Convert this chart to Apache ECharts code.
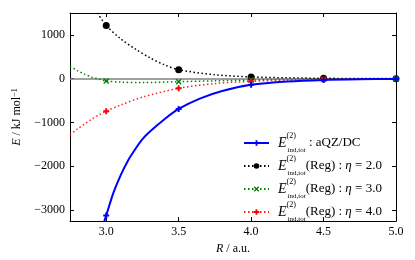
<!DOCTYPE html>
<html>
<head>
<meta charset="utf-8">
<script src="https://cdn.jsdelivr.net/npm/echarts@6/dist/echarts.min.js"></script>
<style>html,body{margin:0;padding:0;background:#fff;}#c{width:415px;height:260px;}</style>
</head>
<body>
<div id="c"></div>
<script>
// ---- data ----
const markerR = [3.0, 3.5, 4.0, 4.5, 5.0];
const xTicks = [3.0, 3.5, 4.0, 4.5, 5.0];
const yTicks = [-3000, -2000, -1000, 0, 1000];

const rAQZ = [2.987, 3.0, 3.05, 3.1, 3.15, 3.2, 3.25, 3.3, 3.4, 3.5, 3.65, 3.8, 4.0, 4.25, 4.5, 4.75, 5.0];
const eAQZ = [-3250, -3120, -2600, -2200, -1870, -1610, -1380, -1210, -930, -690, -450, -280, -140, -65, -28, -12, -5];

const rReg2 = [2.94, 3.0, 3.1, 3.2, 3.3, 3.4, 3.5, 3.75, 4.0, 4.25, 4.5, 4.75, 5.0];
const eReg2 = [1500, 1215, 910, 680, 480, 320, 205, 90, 42, 20, 10, 5, 2];

const rReg3 = [2.75, 2.8, 2.85, 2.9, 2.95, 3.0, 3.1, 3.25, 3.5, 3.75, 4.0, 4.5, 5.0];
const eReg3 = [285, 185, 105, 35, -10, -50, -78, -88, -68, -48, -30, -10, -3];

const rReg4 = [2.75, 2.8, 2.85, 2.9, 2.95, 3.0, 3.1, 3.25, 3.5, 3.75, 4.0, 4.25, 4.5, 4.75, 5.0];
const eReg4 = [-1280, -1150, -1035, -925, -825, -740, -600, -420, -220, -110, -60, -30, -15, -7, -3];

const names = ['aQZ/DC', 'η = 2.0', 'η = 3.0', 'η = 4.0'];

// ---- helpers ----
function build(rs, es) {
  return rs.map((r, i) => {
    const item = { value: [r, es[i]] };
    if (!markerR.some(m => Math.abs(m - r) < 1e-9)) item.symbol = 'none';
    return item;
  });
}
const plusPath = 'path://M2,0H4V2H6V4H4V6H2V4H0V2H2Z';
const xPath = 'path://M0,1L1,0L3,2L5,0L6,1L4,3L6,5L5,6L3,4L1,6L0,5L2,3Z';
const serif = 'Liberation Serif';
const minus = v => String(v).replace('-', '\u2212');

const chart = echarts.init(document.getElementById('c'), null, { renderer: 'canvas' });

const axisCommon = {
  type: 'value',
  axisLine: { show: true, onZero: false, lineStyle: { color: '#000', width: 1 } },
  splitLine: { show: false }
};

chart.setOption({
  animation: false,
  backgroundColor: '#fff',
  grid: { left: 70, right: 19, top: 13, bottom: 32 },
  xAxis: [
    Object.assign({}, axisCommon, {
      position: 'bottom', min: 2.75, max: 5.0,
      axisTick: { show: true, inside: true, length: 4, customValues: xTicks, lineStyle: { color: '#000' } },
      axisLabel: { customValues: xTicks, formatter: v => v.toFixed(1), color: '#000', fontFamily: serif, fontSize: 12, margin: 5 },
      name: '{i|R} / a.u.', nameLocation: 'middle', nameGap: 21,
      nameTextStyle: { color: '#000', fontFamily: serif, fontSize: 12, rich: { i: { fontStyle: 'italic', fontFamily: serif, fontSize: 12 } } }
    }),
    Object.assign({}, axisCommon, {
      position: 'top', min: 2.75, max: 5.0,
      axisTick: { show: true, inside: true, length: 4, customValues: xTicks, lineStyle: { color: '#000' } },
      axisLabel: { show: false }
    })
  ],
  yAxis: [
    Object.assign({}, axisCommon, {
      position: 'left', min: -3250, max: 1500,
      axisTick: { show: true, inside: true, length: 4, customValues: yTicks, lineStyle: { color: '#000' } },
      axisLabel: { customValues: yTicks, formatter: minus, color: '#000', fontFamily: serif, fontSize: 12, margin: 5 },
      name: '{i|E} / kJ mol{s|\u22121}', nameLocation: 'middle', nameGap: 33,
      nameTextStyle: { color: '#000', fontFamily: serif, fontSize: 12,
        rich: { i: { fontStyle: 'italic', fontFamily: serif, fontSize: 12 }, s: { fontFamily: serif, fontSize: 8, verticalAlign: 'top', lineHeight: 10 } } }
    }),
    Object.assign({}, axisCommon, {
      position: 'right', min: -3250, max: 1500,
      axisTick: { show: true, inside: true, length: 4, customValues: yTicks, lineStyle: { color: '#000' } },
      axisLabel: { show: false }
    })
  ],
  legend: {
    orient: 'vertical', left: 238, top: 127,
    itemWidth: 25, itemHeight: 7, itemGap: 1,
    data: names,
    formatter: function (name) {
      const head = '{e|E}{s|(2)}{b|ind,tot}';
      if (name === names[0]) return head + '{t| : aQZ/DC}';
      return head + '{t|(Reg) : }{g|η}{t| ' + name.slice(2) + '}';
    },
    textStyle: {
      color: '#000', fontFamily: serif, fontSize: 13, padding: [0, 0, 0, 4],
      rich: {
        e: { fontStyle: 'italic', fontFamily: serif, fontSize: 14, lineHeight: 22 },
        s: { fontFamily: serif, fontSize: 8, verticalAlign: 'top', lineHeight: 10, width: 1 },
        b: { fontFamily: serif, fontSize: 7, verticalAlign: 'bottom', lineHeight: 10 },
        t: { fontFamily: serif, fontSize: 13 },
        g: { fontFamily: serif, fontSize: 13, fontStyle: 'italic' }
      }
    }
  },
  series: [
    {
      name: names[0], type: 'line', data: build(rAQZ, eAQZ),
      smooth: 0.3,
      symbol: plusPath, symbolSize: 6,
      lineStyle: { color: '#0000ff', width: 2 }, itemStyle: { color: '#0000ff' },
      z: 4,
      markLine: {
        silent: true, symbol: 'none', z: 1, label: { show: false },
        lineStyle: { color: '#808080', width: 1.5, type: 'solid' },
        data: [{ yAxis: 0 }]
      }
    },
    {
      name: names[1], type: 'line', data: build(rReg2, eReg2),
      smooth: 0.3,
      symbol: 'circle', symbolSize: 7,
      lineStyle: { color: '#000', width: 1.5, type: [1.5, 2.5] }, itemStyle: { color: '#000' },
      z: 3
    },
    {
      name: names[2], type: 'line', data: build(rReg3, eReg3),
      smooth: 0.3,
      symbol: xPath, symbolSize: 6,
      lineStyle: { color: '#008000', width: 1.5, type: [1.5, 2.5] }, itemStyle: { color: '#008000' },
      z: 3
    },
    {
      name: names[3], type: 'line', data: build(rReg4, eReg4),
      smooth: 0.3,
      symbol: plusPath, symbolSize: 6,
      lineStyle: { color: '#ff2020', width: 1.5, type: [1.5, 2.5] }, itemStyle: { color: '#ff0000' },
      z: 3
    }
  ]
});
</script>
</body>
</html>
